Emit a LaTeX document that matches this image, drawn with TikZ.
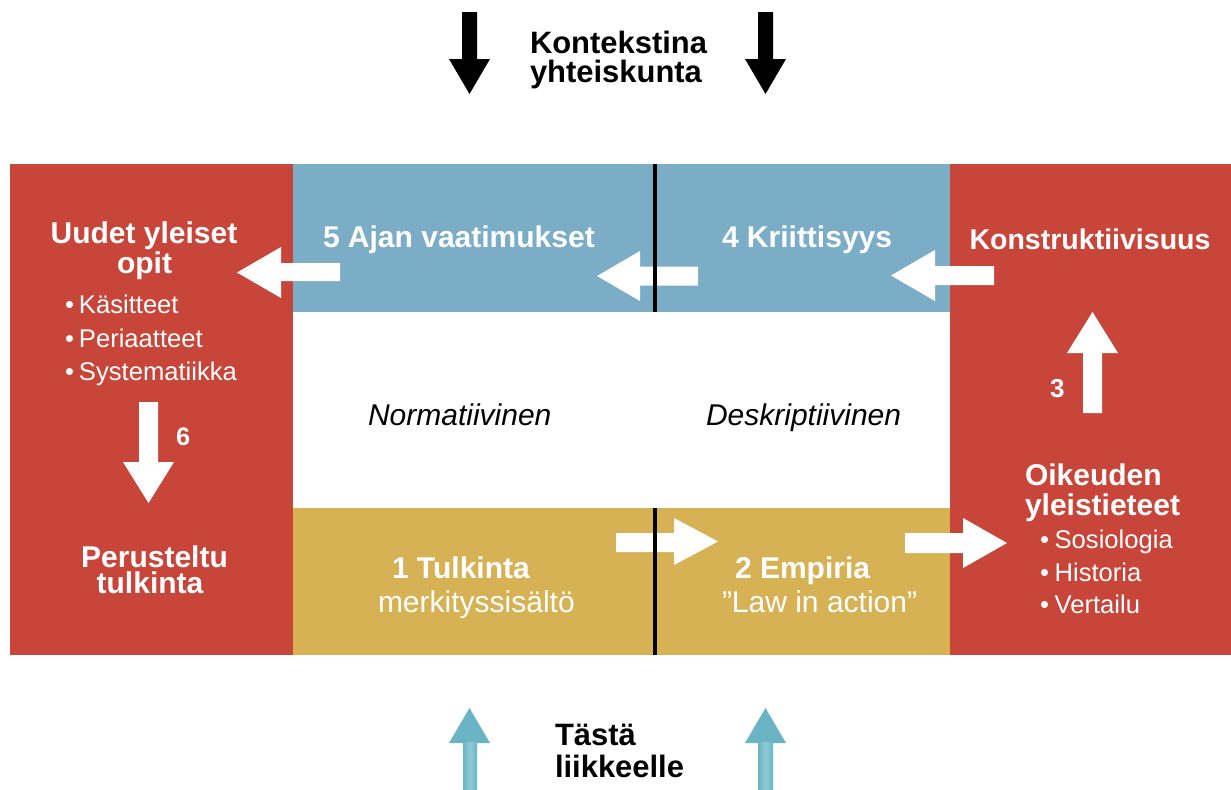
\documentclass[tikz,border=0pt]{standalone}
\usepackage{fontspec}
\setmainfont{Liberation Sans}
\definecolor{pred}{HTML}{C8453A}
\definecolor{pblue}{HTML}{7BADC7}
\definecolor{pgold}{HTML}{D6B254}
\definecolor{pteal}{HTML}{6BB4C4}
\definecolor{ptealL}{HTML}{8FCAD6}
\begin{document}
\begin{tikzpicture}[x=0.75pt,y=-0.75pt,
  hd/.style={font=\fontsize{22.5}{27}\selectfont\bfseries, text=white, inner sep=0, outer sep=0},
  hdk/.style={font=\fontsize{23.2}{27}\selectfont\bfseries, text=black, inner sep=0, outer sep=0},
  bl/.style={font=\fontsize{19.2}{23}\selectfont, text=white, inner sep=0, outer sep=0},
  rg/.style={font=\fontsize{22.5}{27}\selectfont, text=white, inner sep=0, outer sep=0},
  itx/.style={font=\fontsize{22.5}{27}\selectfont\itshape, text=black, inner sep=0, outer sep=0},
  num/.style={font=\fontsize{19}{23}\selectfont\bfseries, text=white, inner sep=0, outer sep=0},
  warrow/.style={fill=white},
  karrow/.style={fill=black},
  tarrow/.style={fill=pteal}]
\useasboundingbox (0,0) rectangle (1231,789);
\fill[white] (0,0) rectangle (1231,789);

% panels
\fill[pred]  (10,164) rectangle (293,655);
\fill[pblue] (293,164) rectangle (950,312);
\fill[pgold] (293,508) rectangle (950,655);
\fill[pred]  (950,164) rectangle (1231,655);

% top black arrows
\fill[karrow] (462,12)--(477,12)--(477,59)--(490,59)--(469.5,94)--(449,59)--(462,59)--cycle;
\fill[karrow] (758,12)--(773,12)--(773,59)--(786,59)--(765.5,94)--(745,59)--(758,59)--cycle;
\node[hdk,anchor=base west] (ctx1) at (530,53) {Kontekstina};
\node[hdk,anchor=base west] (ctx2) at (530,82) {yhteiskunta};

% bottom teal arrows
\fill[tarrow] (449,743)--(469.5,708)--(490,743)--cycle;
\shade[left color=pteal,right color=pteal,middle color=ptealL] (463,742.5) rectangle (477,789);
\fill[tarrow] (745,743)--(765.5,708)--(786,743)--cycle;
\shade[left color=pteal,right color=pteal,middle color=ptealL] (758,742.5) rectangle (773,789);
\node[hdk,anchor=base west] (st1) at (555,745) {Tästä};
\node[hdk,anchor=base west] (st2) at (555,777) {liikkeelle};

% white block arrows
\fill[warrow] (340,263)--(281,263)--(281,247)--(237,272.5)--(281,298)--(281,281)--(340,281)--cycle;
\fill[warrow] (698,266.5)--(640,266.5)--(640,251)--(597,276)--(640,301)--(640,285.5)--(698,285.5)--cycle;
\fill[warrow] (994,266)--(935,266)--(935,250)--(891,275.5)--(935,301)--(935,285)--(994,285)--cycle;
\fill[warrow] (1083,413)--(1083,353)--(1067,353)--(1092.5,312)--(1118,353)--(1102,353)--(1102,413)--cycle;
\fill[warrow] (139,402)--(158,402)--(158,462)--(174,462)--(148.5,503)--(123,462)--(139,462)--cycle;
\fill[warrow] (616,533)--(674,533)--(674,518)--(718,541.5)--(674,565)--(674,552)--(616,552)--cycle;
\fill[warrow] (905,533)--(963,533)--(963,518)--(1007,543)--(963,568)--(963,553)--(905,553)--cycle;

% divider line
\draw[line width=2.3pt] (655,164) -- (655,312);
\draw[line width=2.3pt] (655,508) -- (655,655);

% left panel
\node[hd,anchor=base] (uy1) at (144,243) {Uudet yleiset};
\node[hd,anchor=base] (uy2) at (144.5,273) {opit};
\node[bl,anchor=base west] (b1) at (65,313) {\makebox[10.5pt][l]{•}Käsitteet};
\node[bl,anchor=base west] (b2) at (65,347) {\makebox[10.5pt][l]{•}Periaatteet};
\node[bl,anchor=base west] (b3) at (65,380) {\makebox[10.5pt][l]{•}Systematiikka};
\node[num,anchor=base west] (n6) at (176,445) {6};
\node[hd,anchor=base] (pt1) at (154.5,567) {Perusteltu};
\node[hd,anchor=base] (pt2) at (150,593) {tulkinta};

% blue band
\node[hd,anchor=base west] (aj) at (323,247) {5 Ajan vaatimukset};
\node[hd,anchor=base west] (kr) at (722,247) {4 Kriittisyys};

% middle
\node[itx,anchor=base west] (nor) at (368,425) {Normatiivinen};
\node[itx,anchor=base west] (des) at (706,425) {Deskriptiivinen};

% gold band
\node[hd,anchor=base west] (tu) at (392,578) {1 Tulkinta};
\node[rg,anchor=base west] (me) at (378,612) {merkityssisältö};
\node[hd,anchor=base west] (em) at (735,578) {2 Empiria};
\node[rg,anchor=base west] (la) at (722,612) {”Law in action”};

% right panel
\node[hd,anchor=base,font=\fontsize{21.4}{26}\selectfont\bfseries] (ko) at (1090,249) {Konstruktiivisuus};
\node[num,anchor=base west,font=\fontsize{19.5}{23}\selectfont\bfseries] (n3) at (1050,397) {3};
\node[hd,anchor=base west] (oy1) at (1025,485) {Oikeuden};
\node[hd,anchor=base west] (oy2) at (1025,515) {yleistieteet};
\node[bl,anchor=base west] (s1) at (1040,548) {\makebox[11pt][l]{•}Sosiologia};
\node[bl,anchor=base west] (s2) at (1040,581) {\makebox[11pt][l]{•}Historia};
\node[bl,anchor=base west] (s3) at (1040,613) {\makebox[11pt][l]{•}Vertailu};
\end{tikzpicture}
\end{document}
